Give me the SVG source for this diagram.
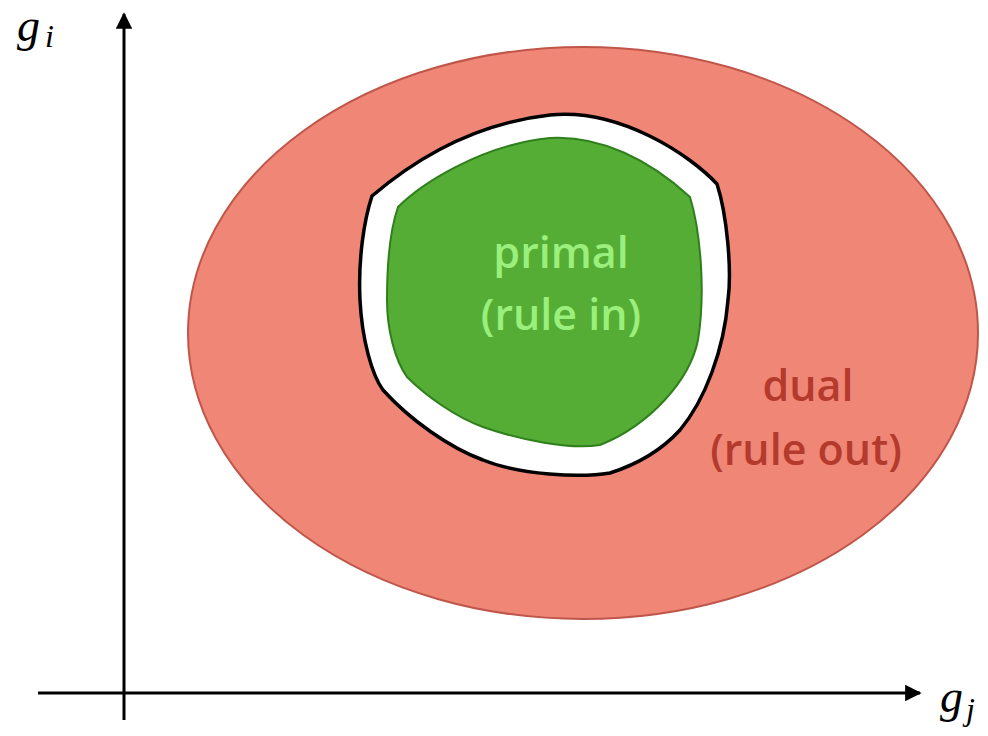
<svg xmlns="http://www.w3.org/2000/svg" width="988" height="736" viewBox="0 0 988 736">
<defs>
<style>
.ax{stroke:#000;stroke-width:3;fill:none}
.lbl{font-family:"Liberation Serif",serif;font-style:italic;fill:#000}
.tp{font-family:"Open Sans",Lato,sans-serif;font-weight:600;font-size:43px;fill:#9bef7c;text-anchor:middle}
.td{font-family:"Open Sans",Lato,sans-serif;font-weight:600;font-size:43px;fill:#b33a2c;text-anchor:middle}
</style>
<marker id="ah" viewBox="0 0 10 10" refX="9" refY="5" markerWidth="5.5" markerHeight="5.5" orient="auto" markerUnits="strokeWidth">
<path d="M0,0 L10,5 L0,10 Z" fill="#000"/>
</marker>
</defs>
<rect width="988" height="736" fill="#fff"/>
<g id="dual">
<ellipse cx="583" cy="333" rx="395" ry="286" fill="#ef8676" stroke="#c0564a" stroke-width="2"/>
<text class="td" x="808" y="401">dual</text>
<text class="td" x="806" y="465">(rule out)</text>
</g>
<g id="boundary">
<path d="M372,196 C400,172 460,125 550,115 C620,108 690,155 717,184 C727,215 732,270 728,300 C724,350 705,400 680,430 C660,452 635,465 610,473 C580,478 520,475 483,460 C450,448 410,420 383,390 C372,375 362,340 360,300 C358,260 364,220 372,196 Z" fill="#fff" stroke="#000" stroke-width="3.5" stroke-linejoin="round"/>
</g>
<g id="primal">
<path d="M398,207 C420,185 480,145 550,138 C600,135 650,160 690,197 C700,230 706,290 698,340 C690,380 650,425 600,445 C570,450 520,440 483,427 C455,417 425,395 407,377 C395,360 387,330 387,300 C387,260 390,230 398,207 Z" fill="#55ad35" stroke="#2f7f1c" stroke-width="2"/>
<text class="tp" x="561" y="268">primal</text>
<text class="tp" x="561" y="330">(rule in)</text>
</g>
<g id="axes">
<line class="ax" x1="124" y1="720" x2="124" y2="14" marker-end="url(#ah)"/>
<line class="ax" x1="38" y1="693" x2="920" y2="693" marker-end="url(#ah)"/>
</g>
<g id="labels">
<text class="lbl" x="17" y="41" font-size="46">g</text>
<text class="lbl" x="45" y="47" font-size="32">i</text>
<text class="lbl" x="940" y="712" font-size="46">g</text>
<text class="lbl" x="966" y="720" font-size="32">j</text>
</g>
</svg>
